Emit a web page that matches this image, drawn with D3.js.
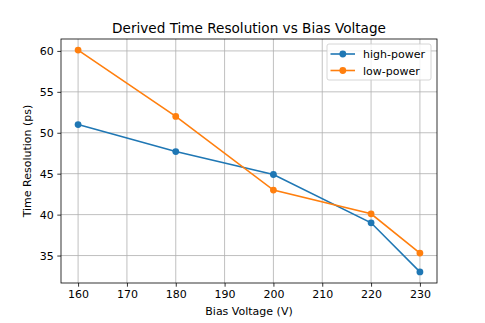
<!DOCTYPE html>
<html>
<head>
<meta charset="utf-8">
<script src="https://cdn.jsdelivr.net/npm/d3@7"></script>
<style>
body { margin: 0; background: #fff; }
svg { font-family: "DejaVu Sans", sans-serif; }
</style>
</head>
<body>
<div id="chart"></div>
<script>
// data
var voltages = [160, 180, 200, 220, 230];
var highPower = [51.0, 47.7, 44.9, 39.0, 33.0];
var lowPower = [60.1, 52.0, 43.0, 40.1, 35.3];
var seriesNames = ["high-power", "low-power"];
var seriesColors = ["#1f77b4", "#ff7f0e"];
var xTicks = [160, 170, 180, 190, 200, 210, 220, 230];
var yTicks = [35, 40, 45, 50, 55, 60];

var width = 485, height = 323;
var margin = {top: 39, right: 48, bottom: 40, left: 61};
var w = width - margin.left - margin.right;
var h = height - margin.top - margin.bottom;

var svg = d3.select("#chart")
    .append("svg")
    .attr("width", width)
    .attr("height", height);

var x = d3.scaleLinear().domain([156.5, 233.5]).range([0, w]);
var y = d3.scaleLinear().domain([31.645, 61.455]).range([h, 0]);

var g = svg.append("g")
    .attr("transform", "translate(" + margin.left + "," + margin.top + ")");

//grid lines
g.selectAll(".vgrid")
    .data(xTicks)
    .enter().append("line")
    .attr("x1", function(d) { return x(d); })
    .attr("x2", function(d) { return x(d); })
    .attr("y1", 0).attr("y2", h)
    .style("stroke", "#b0b0b0").style("stroke-width", 0.8);

g.selectAll(".hgrid")
    .data(yTicks)
    .enter().append("line")
    .attr("y1", function(d) { return y(d); })
    .attr("y2", function(d) { return y(d); })
    .attr("x1", 0).attr("x2", w)
    .style("stroke", "#b0b0b0").style("stroke-width", 0.8);

//axes
var xAxis = g.append("g")
    .attr("transform", "translate(0," + h + ")")
    .call(d3.axisBottom(x).tickValues(xTicks).tickSize(3.7).tickPadding(3.5));
var yAxis = g.append("g")
    .call(d3.axisLeft(y).tickValues(yTicks).tickSize(3.7).tickPadding(3.5));

[xAxis, yAxis].forEach(function(a) {
    a.select(".domain").remove();
    a.selectAll("text").style("font-size", "11px").style("fill", "#000")
        .style("font-family", "DejaVu Sans, sans-serif");
    a.selectAll("line").style("stroke", "#000").style("stroke-width", 0.8);
});

//frame
g.append("rect")
    .attr("x", 0).attr("y", 0)
    .attr("width", w).attr("height", h)
    .style("fill", "none")
    .style("stroke", "#000")
    .style("stroke-width", 0.8);

//series
var series = [highPower, lowPower];
var line = d3.line()
    .x(function(d, i) { return x(voltages[i]); })
    .y(function(d) { return y(d); });

series.forEach(function(vals, k) {
    g.append("path")
        .datum(vals)
        .attr("d", line)
        .style("fill", "none")
        .style("stroke", seriesColors[k])
        .style("stroke-width", 1.6);
    g.selectAll(".dot" + k)
        .data(vals)
        .enter().append("circle")
        .attr("cx", function(d, i) { return x(voltages[i]); })
        .attr("cy", function(d) { return y(d); })
        .attr("r", 3.4)
        .style("fill", seriesColors[k]);
});

//title and labels
svg.append("text")
    .attr("x", margin.left + w / 2)
    .attr("y", 32.5)
    .attr("text-anchor", "middle")
    .style("font-size", "13.6px")
    .text("Derived Time Resolution vs Bias Voltage");

svg.append("text")
    .attr("x", margin.left + w / 2)
    .attr("y", 315)
    .attr("text-anchor", "middle")
    .style("font-size", "11px")
    .text("Bias Voltage (V)");

svg.append("text")
    .attr("transform", "translate(31," + (margin.top + h / 2) + ") rotate(-90)")
    .attr("text-anchor", "middle")
    .style("font-size", "11px")
    .text("Time Resolution (ps)");

//legend
var lg = svg.append("g").attr("transform", "translate(327,44)");
lg.append("rect")
    .attr("width", 104).attr("height", 36)
    .attr("rx", 2)
    .style("fill", "#fff").style("fill-opacity", 0.8)
    .style("stroke", "#ccc").style("stroke-width", 0.8);

var item = lg.selectAll(".item")
    .data(seriesNames)
    .enter().append("g")
    .attr("transform", function(d, i) { return "translate(0," + (10 + i * 16.5) + ")"; });
item.append("line")
    .attr("x1", 3.5).attr("x2", 28)
    .style("stroke", function(d, i) { return seriesColors[i]; })
    .style("stroke-width", 1.6);
item.append("circle")
    .attr("cx", 15.8).attr("r", 3.4)
    .style("fill", function(d, i) { return seriesColors[i]; });
item.append("text")
    .attr("x", 36).attr("y", 4)
    .style("font-size", "11px")
    .text(function(d) { return d; });
</script>
</body>
</html>
